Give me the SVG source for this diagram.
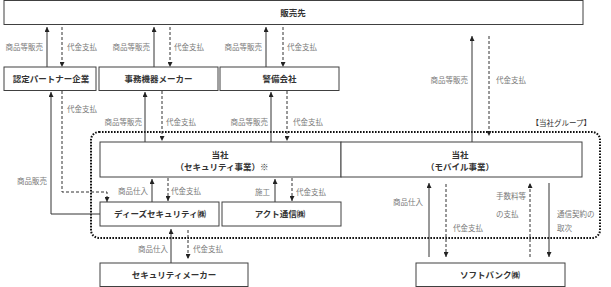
<svg xmlns="http://www.w3.org/2000/svg" width="611" height="287" viewBox="0 0 611 287">
<style>
.box{fill:#fff;stroke:#404040;stroke-width:1}
.nt{font-family:"Noto Sans CJK JP","Liberation Sans",sans-serif;font-size:8.5px;font-weight:bold;fill:#333;text-anchor:middle}
.lb{font-family:"Noto Sans CJK JP","Liberation Sans",sans-serif;font-size:7.5px;fill:#7a7a7a}
.e{text-anchor:end}
.s{fill:none;stroke:#333;stroke-width:1;marker-end:url(#ah)}
.d{fill:none;stroke:#333;stroke-width:1;stroke-dasharray:3 2;marker-end:url(#ah)}
.grp{fill:none;stroke:#111;stroke-width:2;stroke-dasharray:1.6 1.4}
</style>
<defs>
<marker id="ah" markerUnits="userSpaceOnUse" markerWidth="5" markerHeight="5" viewBox="0 0 6 6" refX="6" refY="3" orient="auto">
<path d="M0,0 L6,3 L0,6 z" fill="#222"/>
</marker>
</defs>
<g id="group-frame">
<rect class="grp" x="91" y="132" width="509" height="106" rx="8"/>
<text class="lb" x="591" y="126" text-anchor="end" style="fill:#333">【当社グループ】</text>
</g>
<g id="connectors">
<line class="s" x1="47" y1="67" x2="47" y2="27"/>
<line class="d" x1="62" y1="27" x2="62" y2="67"/>
<line class="s" x1="154" y1="67" x2="154" y2="27"/>
<line class="d" x1="170" y1="27" x2="170" y2="67"/>
<line class="s" x1="266" y1="67" x2="266" y2="27"/>
<line class="d" x1="283" y1="27" x2="283" y2="67"/>
<line class="s" x1="472" y1="142" x2="472" y2="36"/>
<line class="d" x1="489" y1="36" x2="489" y2="136"/>
<polyline class="s" points="100,214 51,214 51,92"/>
<polyline class="d" points="62,91 62,192 107,192 107,202"/>
<line class="s" x1="145" y1="142" x2="145" y2="92"/>
<line class="d" x1="162" y1="91" x2="162" y2="141"/>
<line class="s" x1="271" y1="142" x2="271" y2="92"/>
<line class="d" x1="287" y1="91" x2="287" y2="141"/>
<line class="s" x1="152" y1="202" x2="152" y2="179"/>
<line class="d" x1="168" y1="178" x2="168" y2="201"/>
<line class="s" x1="275" y1="202" x2="275" y2="179"/>
<line class="d" x1="292" y1="178" x2="292" y2="201"/>
<line class="s" x1="171" y1="263" x2="171" y2="229"/>
<line class="d" x1="188" y1="230" x2="188" y2="259"/>
<line class="s" x1="429" y1="257" x2="429" y2="183"/>
<line class="d" x1="446" y1="184" x2="446" y2="257"/>
<line class="d" x1="530" y1="257" x2="530" y2="183"/>
<line class="s" x1="549" y1="183" x2="549" y2="257"/>
</g>
<g id="connector-labels">
<text class="lb e" x="43" y="50">商品等販売</text>
<text class="lb" x="67" y="50">代金支払</text>
<text class="lb e" x="150" y="50">商品等販売</text>
<text class="lb" x="174" y="50">代金支払</text>
<text class="lb e" x="262" y="50">商品等販売</text>
<text class="lb" x="287" y="50">代金支払</text>
<text class="lb e" x="468" y="83">商品等販売</text>
<text class="lb" x="496" y="83">代金支払</text>
<text class="lb" x="67" y="112">代金支払</text>
<text class="lb e" x="47" y="183.5">商品販売</text>
<text class="lb e" x="142" y="124.5">商品等販売</text>
<text class="lb" x="166" y="124.5">代金支払</text>
<text class="lb e" x="268" y="124.5">商品等販売</text>
<text class="lb" x="293" y="124.5">代金支払</text>
<text class="lb e" x="148" y="193.5">商品仕入</text>
<text class="lb" x="171" y="193.5">代金支払</text>
<text class="lb e" x="270" y="194.5">施工</text>
<text class="lb" x="296" y="194.5">代金支払</text>
<text class="lb e" x="168" y="252">商品仕入</text>
<text class="lb" x="193" y="252">代金支払</text>
<text class="lb e" x="423" y="204.5">商品仕入</text>
<text class="lb" x="453" y="231">代金支払</text>
<text class="lb" x="496" y="199">手数料等</text>
<text class="lb" x="496" y="217">の支払</text>
<text class="lb" x="557" y="217">通信契約の</text>
<text class="lb" x="557" y="231">取次</text>
</g>
<g id="node-customer">
<rect class="box" x="4" y="0.5" width="579" height="24"/>
<text class="nt" x="293" y="15.5">販売先</text>
</g>
<g id="node-partner">
<rect class="box" x="4" y="67" width="92" height="23.5"/>
<text class="nt" x="51" y="81.5">認定パートナー企業</text>
</g>
<g id="node-office">
<rect class="box" x="99" y="67" width="119" height="23.5"/>
<text class="nt" x="158.5" y="81.5">事務機器メーカー</text>
</g>
<g id="node-security-co">
<rect class="box" x="220" y="67" width="119" height="23.5"/>
<text class="nt" x="279.5" y="81.5">警備会社</text>
</g>
<g id="node-security-biz">
<rect class="box" x="100" y="142" width="241" height="35"/>
<text class="nt" x="220" y="158">当社</text>
<text class="nt" x="222" y="169.5">（セキュリティ事業）※</text>
</g>
<g id="node-mobile-biz">
<rect class="box" x="341" y="142" width="241" height="35"/>
<text class="nt" x="460" y="158">当社</text>
<text class="nt" x="460" y="169.5">（モバイル事業）</text>
</g>
<g id="node-ds">
<rect class="box" x="100" y="202" width="119" height="24"/>
<text class="nt" x="160" y="217">ディーズセキュリティ㈱</text>
</g>
<g id="node-act">
<rect class="box" x="222" y="202" width="119" height="24"/>
<text class="nt" x="280" y="217">アクト通信㈱</text>
</g>
<g id="node-maker">
<rect class="box" x="100" y="263" width="148" height="23.5"/>
<text class="nt" x="174" y="278">セキュリティメーカー</text>
</g>
<g id="node-softbank">
<rect class="box" x="416" y="263" width="149" height="23.5"/>
<text class="nt" x="490" y="278">ソフトバンク㈱</text>
</g>
</svg>
